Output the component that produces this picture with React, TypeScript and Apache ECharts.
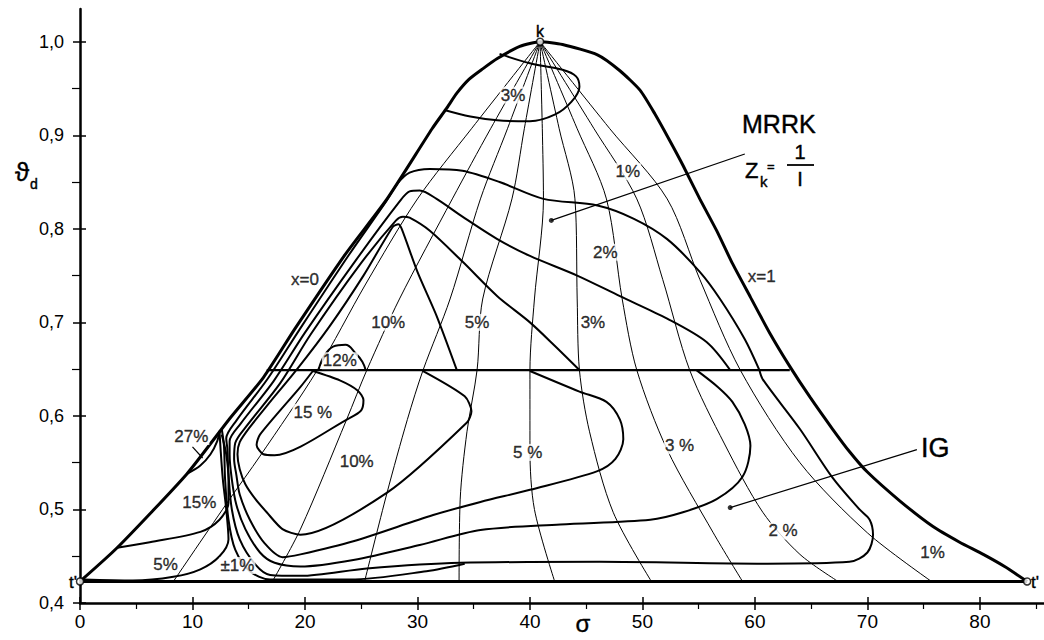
import React, { useEffect, useRef } from 'react';
import * as echarts from 'echarts';

// ---- axes ----
const xTickValues = [0, 10, 20, 30, 40, 50, 60, 70, 80];
const xMinorValues = [5, 15, 25, 35, 45, 55, 65, 75, 85];
const yTickValues = [0.4, 0.5, 0.6, 0.7, 0.8, 0.9, 1.0];
const yMinorValues = [0.45, 0.55, 0.65, 0.75, 0.85, 0.95];

// ---- boundary curves (sigma, theta_d) ----
const saturationCurve = [
  [0, 0.423], [3.3, 0.459], [9.5, 0.538], [13.3, 0.597], [16.3, 0.641], [19.1, 0.693], [23.6, 0.773],
  [27.3, 0.832], [31.3, 0.907], [32.6, 0.929], [33.5, 0.945], [34.6, 0.960], [35.8, 0.971], [37.1, 0.982],
  [39.1, 0.995], [40.9, 1.0], [42.9, 0.997], [46.0, 0.986], [48.0, 0.969], [49.8, 0.948], [51.1, 0.923],
  [52.4, 0.895], [53.6, 0.868], [55.1, 0.832], [56.6, 0.798], [58.0, 0.763], [59.6, 0.727], [61.3, 0.689],
  [63.1, 0.653], [64.9, 0.620], [66.9, 0.586], [68.4, 0.562], [70.0, 0.540], [72.9, 0.509], [75.8, 0.482],
  [78.2, 0.465], [80.3, 0.452], [82.2, 0.439], [84.2, 0.423]
];
const baseLine = [[0, 0.423], [84.2, 0.423]];
const dividerLine = [[16.6, 0.649], [63.1, 0.649]];

// ---- constant dryness lines from k ----
const xLine1 = [[40.9, 1.0], [34.8, 0.907], [30.0, 0.832], [25.4, 0.741], [21.1, 0.649], [16.0, 0.557], [13.3, 0.511], [8.3, 0.423]];
const xLine2 = [[40.9, 1.0], [36.5, 0.907], [33.1, 0.832], [28.4, 0.725], [25.5, 0.649], [23.7, 0.596], [19.6, 0.479], [17.1, 0.423]];
const xLine3 = [[40.9, 1.0], [38.0, 0.907], [35.6, 0.832], [32.9, 0.725], [30.5, 0.649], [29.1, 0.596], [27.3, 0.518], [25.3, 0.423]];
const xLine4 = [[40.9, 1.0], [39.5, 0.907], [38.4, 0.832], [35.8, 0.725], [35.3, 0.649], [34.4, 0.583], [33.8, 0.511], [33.7, 0.423]];
const xLine5 = [[40.9, 1.0], [41.1, 0.907], [41.2, 0.832], [40.4, 0.725], [40.0, 0.649], [40.0, 0.564], [40.4, 0.500], [42.2, 0.423]];
const xLine6 = [[40.9, 1.0], [42.6, 0.907], [44.0, 0.832], [44.2, 0.725], [44.4, 0.649], [45.3, 0.583], [47.4, 0.497], [50.8, 0.423]];
const xLine7 = [[40.9, 1.0], [44.2, 0.907], [46.8, 0.832], [48.2, 0.725], [49.5, 0.649], [52.2, 0.564], [56.3, 0.475], [58.9, 0.423]];
const xLine8 = [[40.9, 1.0], [45.7, 0.907], [49.5, 0.832], [51.8, 0.746], [54.2, 0.649], [57.3, 0.570], [60.7, 0.497], [64.0, 0.452], [67.4, 0.423]];
const xLine9 = [[40.9, 1.0], [47.1, 0.907], [52.2, 0.832], [55.1, 0.746], [58.7, 0.649], [64.0, 0.550], [70.0, 0.475], [75.7, 0.423]];

// ---- error contours ----
const topLoop3 = [
  [32.4, 0.927], [34.7, 0.920], [37.1, 0.916], [40.0, 0.915], [42.2, 0.922], [43.7, 0.936], [44.4, 0.952],
  [44.1, 0.963], [42.9, 0.970], [40.0, 0.977], [37.3, 0.987]
];
const contour2 = [
  [60.4, 0.649], [59.1, 0.682], [56.9, 0.725], [55.1, 0.754], [52.2, 0.789], [49.2, 0.811], [46.0, 0.825],
  [41.2, 0.832], [37.3, 0.850], [34.0, 0.862], [31.1, 0.864], [29.3, 0.860], [28.2, 0.848], [27.2, 0.829],
  [23.9, 0.772], [19.5, 0.692], [16.7, 0.640], [13.9, 0.595], [13.0, 0.576], [13.1, 0.565], [13.2, 0.538],
  [13.5, 0.500], [14.2, 0.468], [15.6, 0.441], [16.9, 0.430], [19.6, 0.429], [25.5, 0.437], [33.8, 0.443],
  [46.2, 0.444], [61.1, 0.442], [68.4, 0.444], [70.0, 0.454], [70.5, 0.473], [70.2, 0.489], [69.3, 0.500],
  [66.9, 0.534], [64.0, 0.586], [60.7, 0.639], [60.4, 0.649]
];
const contour3 = [
  [57.8, 0.649], [55.7, 0.679], [52.2, 0.704], [48.0, 0.728], [44.2, 0.750], [40.0, 0.771], [37.1, 0.789],
  [34.0, 0.813], [31.7, 0.832], [30.2, 0.841], [29.3, 0.840], [28.4, 0.829], [24.5, 0.766], [20.0, 0.689],
  [17.2, 0.637], [14.3, 0.592], [13.3, 0.573], [13.3, 0.559], [13.5, 0.532], [13.9, 0.505], [14.7, 0.479],
  [16.0, 0.454], [17.3, 0.443], [19.6, 0.439], [24.3, 0.446], [30.2, 0.462], [35.6, 0.478], [42.7, 0.484],
  [50.7, 0.489], [53.6, 0.497], [56.6, 0.511], [58.9, 0.535], [59.6, 0.568], [59.1, 0.591], [58.0, 0.615],
  [56.7, 0.631], [54.8, 0.649]
];
const contour5 = [
  [44.4, 0.649], [42.2, 0.675], [40.0, 0.700], [37.1, 0.728], [34.0, 0.765], [31.1, 0.798], [29.3, 0.812],
  [28.7, 0.813], [28.1, 0.809], [24.9, 0.762], [20.5, 0.687], [17.8, 0.635], [14.8, 0.589], [13.8, 0.571],
  [13.7, 0.554], [13.9, 0.537], [14.2, 0.516], [15.1, 0.489], [16.4, 0.464], [18.0, 0.449], [19.6, 0.452],
  [24.3, 0.466], [31.4, 0.494], [35.6, 0.508], [40.0, 0.521], [46.0, 0.541], [47.6, 0.554], [48.3, 0.575],
  [48.0, 0.596], [46.8, 0.615], [44.4, 0.626], [40.0, 0.648]
];
const contour10 = [
  [33.5, 0.649], [31.7, 0.707], [30.0, 0.754], [28.6, 0.800], [28.3, 0.805], [27.8, 0.802], [25.2, 0.750],
  [22.2, 0.696], [19.3, 0.650], [16.7, 0.612], [15.1, 0.588], [14.2, 0.572], [14.0, 0.559], [14.2, 0.543],
  [14.7, 0.527], [15.6, 0.511], [16.6, 0.497], [18.0, 0.479], [19.6, 0.473], [27.3, 0.518], [34.4, 0.593],
  [34.8, 0.605], [34.2, 0.621], [30.5, 0.648]
];
const contourPm1 = [
  [12.6, 0.586], [12.8, 0.568], [12.9, 0.532], [13.2, 0.489], [13.8, 0.457], [15.1, 0.434], [16.9, 0.425],
  [24.0, 0.425], [30.8, 0.434], [34.2, 0.442]
];
const contour5Left = [
  [0.3, 0.425], [4.7, 0.424], [8.3, 0.428], [10.7, 0.436], [12.4, 0.450], [13.2, 0.468], [13.0, 0.500],
  [12.7, 0.532], [12.5, 0.564], [12.4, 0.584]
];
const contour15Left = [
  [3.3, 0.459], [6.2, 0.465], [10.7, 0.476], [12.4, 0.489], [13.2, 0.507], [13.2, 0.532], [13.0, 0.559],
  [12.6, 0.580]
];
const contour27 = [[9.5, 0.538], [10.7, 0.547], [11.6, 0.559], [12.2, 0.573], [12.4, 0.584]];
const bump12 = [[21.2, 0.649], [21.7, 0.664], [22.5, 0.674], [23.6, 0.676], [24.5, 0.667], [25.1, 0.658], [25.4, 0.649]];
const loop15 = [
  [20.7, 0.648], [23.1, 0.638], [24.7, 0.627], [25.2, 0.617], [25.0, 0.606], [24.0, 0.598], [17.3, 0.558],
  [16.3, 0.559], [15.7, 0.569], [16.0, 0.580], [19.6, 0.631], [20.7, 0.648]
];

// ---- annotations ----
const leader27 = [[10.0, 0.567], [10.9, 0.555]];
const mrrkLeader = [[41.9, 0.809], [59.1, 0.880]];
const igLeader = [[57.8, 0.502], [74.4, 0.564]];
const leaderDots = [[41.9, 0.809], [57.8, 0.502]];
const openPoints = [[40.9, 1.0], [0, 0.423], [84.2, 0.423]];

const regionLabels = [
  { text: '3%', x: 38.5, y: 0.943 },
  { text: '1%', x: 48.7, y: 0.861 },
  { text: '2%', x: 46.7, y: 0.775 },
  { text: '3%', x: 45.6, y: 0.700 },
  { text: '5%', x: 35.3, y: 0.700 },
  { text: '10%', x: 27.4, y: 0.700 },
  { text: '12%', x: 23.1, y: 0.659 },
  { text: '15 %', x: 20.7, y: 0.604 },
  { text: '10%', x: 24.6, y: 0.551 },
  { text: '5 %', x: 39.8, y: 0.561 },
  { text: '3 %', x: 53.3, y: 0.568 },
  { text: '2 %', x: 62.5, y: 0.477 },
  { text: '1%', x: 75.8, y: 0.454 },
  { text: '27%', x: 9.9, y: 0.578 },
  { text: '15%', x: 10.6, y: 0.507 },
  { text: '5%', x: 7.6, y: 0.441 },
  { text: '±1%', x: 14.0, y: 0.440 },
  { text: 'x=0', x: 20.0, y: 0.746 },
  { text: 'x=1', x: 60.6, y: 0.749 }
];

const FONT = 'Liberation Sans';

export default function App() {
  const ref = useRef<HTMLDivElement>(null);
  useEffect(() => {
    const chart = echarts.init(ref.current as HTMLDivElement, null, { renderer: 'svg' });
    const X_MAX = 85.7;
    const line = (data: number[][], width: number, smooth = 0.3, z = 3) => ({
      type: 'line', data, symbol: 'none', smooth, silent: true, z, clip: false,
      lineStyle: { color: '#000', width }
    });
    const tickStyle = { color: '#000', width: 1.5 };
    const xBase = { type: 'value', min: 0, max: X_MAX, position: 'bottom', gridIndex: 0, splitLine: { show: false } };
    const yBase = { type: 'value', min: 0.4, max: 1.035, position: 'left', gridIndex: 0, splitLine: { show: false } };
    const txt = (text: string, x: number, y: number, fontSize: number, align = 'left') => ({
      type: 'text', x, y, silent: true, z: 20,
      style: {
        text, fontSize, fontFamily: FONT, fill: '#000', textAlign: align, textVerticalAlign: 'middle',
        stroke: '#000', lineWidth: 0.4
      }
    });

    chart.setOption({
      animation: false,
      backgroundColor: '#fff',
      grid: { left: 80, right: 0, top: 9, bottom: 37, containLabel: false, outerBoundsMode: 'none' },
      xAxis: [
        {
          ...xBase,
          axisLine: { show: true, onZero: false, lineStyle: { color: '#000', width: 2.5 } },
          axisTick: { show: true, customValues: xTickValues, length: 7, lineStyle: tickStyle },
          axisLabel: { show: true, customValues: xTickValues, color: '#000', fontSize: 19, fontFamily: FONT, margin: 9 }
        },
        {
          ...xBase,
          axisLine: { show: false },
          axisTick: { show: true, inside: true, customValues: xTickValues, length: 6, lineStyle: tickStyle },
          axisLabel: { show: false }
        },
        {
          ...xBase,
          axisLine: { show: false },
          axisTick: { show: true, customValues: xMinorValues, length: 6, lineStyle: { color: '#000', width: 1.2 } },
          axisLabel: { show: false }
        }
      ],
      yAxis: [
        {
          ...yBase,
          axisLine: { show: true, onZero: false, lineStyle: { color: '#000', width: 2.5 } },
          axisTick: { show: true, customValues: yTickValues, length: 7, lineStyle: tickStyle },
          axisLabel: {
            show: true, customValues: yTickValues, color: '#000', fontSize: 18, fontFamily: FONT, margin: 16,
            formatter: (v: number) => v.toFixed(1).replace('.', ',')
          }
        },
        {
          ...yBase,
          axisLine: { show: false },
          axisTick: { show: true, inside: true, customValues: yTickValues, length: 6, lineStyle: tickStyle },
          axisLabel: { show: false }
        },
        {
          ...yBase,
          axisLine: { show: false },
          axisTick: { show: true, customValues: yMinorValues, length: 8, lineStyle: { color: '#000', width: 1.2 } },
          axisLabel: { show: false }
        }
      ],
      series: [
        line(saturationCurve, 3, 0.2, 5),
        line(baseLine, 3, 0, 5),
        line(dividerLine, 2.2, 0, 5),
        line(xLine1, 1), line(xLine2, 1), line(xLine3, 1), line(xLine4, 1), line(xLine5, 1),
        line(xLine6, 1), line(xLine7, 1), line(xLine8, 1), line(xLine9, 1),
        line(topLoop3, 2, 0.35),
        line(contour2, 2, 0.3),
        line(contour3, 2, 0.3),
        line(contour5, 2, 0.3),
        line(contour10, 2, 0.25),
        line(contourPm1, 2, 0.3),
        line(contour5Left, 2, 0.3),
        line(contour15Left, 2, 0.3),
        line(contour27, 2, 0.3),
        line(bump12, 2, 0.4),
        line(loop15, 2, 0.25),
        line(leader27, 1.2, 0),
        line(mrrkLeader, 1.2, 0),
        line(igLeader, 1.2, 0),
        {
          type: 'scatter', data: leaderDots, symbol: 'circle', symbolSize: 5, silent: true, z: 8,
          itemStyle: { color: '#000' }
        },
        {
          type: 'scatter', data: openPoints, symbol: 'circle', symbolSize: 7, silent: true, z: 9,
          itemStyle: { color: '#fff', borderColor: '#000', borderWidth: 1.5 }
        },
        {
          type: 'scatter', silent: true, z: 12, symbolSize: 1,
          itemStyle: { color: 'rgba(0,0,0,0)' },
          data: regionLabels.map((l) => ({ name: l.text, value: [l.x, l.y] })),
          label: {
            show: true, position: 'inside', formatter: '{b}', color: '#000', fontSize: 17, fontFamily: FONT,
            backgroundColor: '#fff', padding: [0, 1], textBorderColor: '#000', textBorderWidth: 0.4
          }
        }
      ],
      graphic: [
        txt('MRRK', 742, 124, 25),
        txt('Z', 745, 170, 22),
        txt('k', 760, 181, 15),
        txt('=', 767, 166, 13),
        txt('1', 800, 152, 20, 'center'),
        { type: 'line', silent: true, z: 20, shape: { x1: 787, y1: 165, x2: 814, y2: 165 }, style: { stroke: '#000', lineWidth: 1.8 } },
        txt('I', 800, 179, 20, 'center'),
        txt('IG', 921, 448, 27),
        txt('ϑ', 15, 172, 26),
        txt('d', 30, 184, 14),
        txt('σ', 583, 623, 24, 'center'),
        txt("t'", 77, 582, 17, 'right'),
        txt("t'", 1031, 582, 17),
        txt('k', 540, 31, 16, 'center')
      ]
    } as any);
    return () => chart.dispose();
  }, []);
  return (
    <div
      ref={ref}
      style={{ position: 'absolute', left: 0, top: 0, width: 1044, height: 640, background: '#fff' }}
    />
  );
}
